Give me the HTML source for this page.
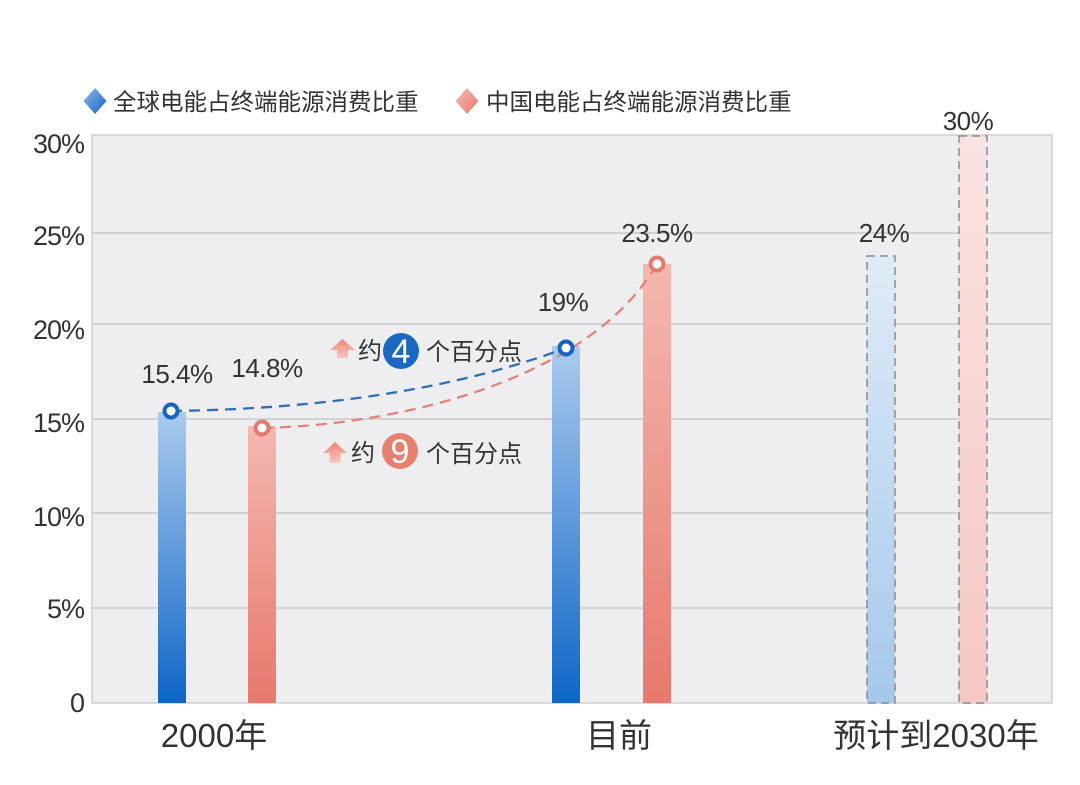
<!DOCTYPE html>
<html><head><meta charset="utf-8"><style>
html,body{margin:0;padding:0;background:#fff;}
svg{display:block;}
text{font-family:"Liberation Sans","Noto Sans CJK SC",sans-serif;fill:#333;}
</style></head><body>
<svg width="1080" height="785" viewBox="0 0 1080 785" xmlns="http://www.w3.org/2000/svg">
<defs>
<linearGradient id="gb" x1="0" y1="0" x2="0" y2="1"><stop offset="0" stop-color="#aacbee"/><stop offset="1" stop-color="#0e66c6"/></linearGradient>
<linearGradient id="gr" x1="0" y1="0" x2="0" y2="1"><stop offset="0" stop-color="#f3b8b1"/><stop offset="1" stop-color="#e7796c"/></linearGradient>
<linearGradient id="gbl" x1="0" y1="0" x2="0" y2="1"><stop offset="0" stop-color="#dfebf8"/><stop offset="1" stop-color="#a5c8eb"/></linearGradient>
<linearGradient id="grl" x1="0" y1="0" x2="0" y2="1"><stop offset="0" stop-color="#fae2e0"/><stop offset="1" stop-color="#f5c7c3"/></linearGradient>
<linearGradient id="ga" x1="0" y1="0" x2="0" y2="1"><stop offset="0" stop-color="#ee8577"/><stop offset="1" stop-color="#f7c6be"/></linearGradient>
<linearGradient id="gdb" x1="0" y1="0" x2="1" y2="1"><stop offset="0" stop-color="#8dbbec"/><stop offset="1" stop-color="#1763bf"/></linearGradient>
<linearGradient id="gdr" x1="0" y1="0" x2="1" y2="1"><stop offset="0" stop-color="#f5bcb4"/><stop offset="1" stop-color="#e5776b"/></linearGradient>
</defs>

<!-- legend -->
<polygon points="95,88 106.5,101 95,114 83.5,101" fill="url(#gdb)"/>
<text x="113" y="110" font-size="23.5">全球电能占终端能源消费比重</text>
<polygon points="467,88 478.5,101 467,114 455.5,101" fill="url(#gdr)"/>
<text x="486" y="110" font-size="23.5">中国电能占终端能源消费比重</text>

<!-- plot area -->
<rect x="92" y="135" width="960" height="568" fill="#eeeef0" stroke="#cfcfd2" stroke-width="1.5"/>
<g stroke="#c9c9cc" stroke-width="1.5">
<line x1="92" y1="233" x2="1052" y2="233"/>
<line x1="92" y1="324" x2="1052" y2="324"/>
<line x1="92" y1="419" x2="1052" y2="419"/>
<line x1="92" y1="513" x2="1052" y2="513"/>
<line x1="92" y1="608" x2="1052" y2="608"/>
</g>

<!-- y axis labels -->
<g font-size="27" text-anchor="end" letter-spacing="-1">
<text x="84" y="153">30%</text>
<text x="84" y="245">25%</text>
<text x="84" y="339">20%</text>
<text x="84" y="432">15%</text>
<text x="84" y="526">10%</text>
<text x="84" y="618">5%</text>
<text x="84" y="712">0</text>
</g>

<!-- bars -->
<rect x="158" y="412" width="28" height="291" fill="url(#gb)"/>
<rect x="248" y="426" width="28" height="277" fill="url(#gr)"/>
<rect x="552" y="346" width="28" height="357" fill="url(#gb)"/>
<rect x="643" y="264" width="28" height="439" fill="url(#gr)"/>
<rect x="867" y="256" width="28" height="447" fill="url(#gbl)" stroke="#8c8c90" stroke-width="1.5" stroke-dasharray="8 5"/>
<rect x="959" y="136" width="28" height="567" fill="url(#grl)" stroke="#8c8c90" stroke-width="1.5" stroke-dasharray="8 5"/>

<!-- dashed curves -->
<path d="M171,411 Q405,408 566,348" fill="none" stroke="#2f6fb5" stroke-width="2.3" stroke-dasharray="11 7"/>
<path d="M262,428 C400,425 590,380 657,264" fill="none" stroke="#e08379" stroke-width="2.3" stroke-dasharray="11 7"/>

<!-- markers -->
<circle cx="171" cy="411" r="6.5" fill="#fff" stroke="#1763bf" stroke-width="4"/>
<circle cx="262" cy="428" r="6.5" fill="#fff" stroke="#e27a6f" stroke-width="4"/>
<circle cx="566" cy="348" r="6.5" fill="#fff" stroke="#1763bf" stroke-width="4"/>
<circle cx="657" cy="264" r="6.5" fill="#fff" stroke="#e27a6f" stroke-width="4"/>

<!-- value labels -->
<g font-size="26" text-anchor="middle" letter-spacing="-0.5">
<text x="177" y="383">15.4%</text>
<text x="267" y="377">14.8%</text>
<text x="563" y="311">19%</text>
<text x="657" y="242">23.5%</text>
<text x="884" y="242">24%</text>
<text x="968" y="130">30%</text>
</g>

<!-- annotations -->
<polygon points="330,350 342.5,339 355,350 348,350 348,358 337,358 337,350" fill="url(#ga)"/>
<text x="358" y="359" font-size="24">约</text>
<circle cx="401" cy="351" r="18" fill="#1a68c2"/>
<text x="401" y="363" font-size="34" text-anchor="middle" style="fill:#fff">4</text>
<text x="426" y="360" font-size="24">个百分点</text>

<polygon points="323,453 335,442 347,453 340.5,453 340.5,463 329.5,463 329.5,453" fill="url(#ga)"/>
<text x="351" y="461" font-size="24">约</text>
<circle cx="400" cy="451" r="18" fill="#e8806f"/>
<text x="400" y="463" font-size="34" text-anchor="middle" style="fill:#fff">9</text>
<text x="426" y="462" font-size="24">个百分点</text>

<!-- x labels -->
<g font-size="33" text-anchor="middle">
<text x="214" y="747">2000年</text>
<text x="619" y="747">目前</text>
<text x="936" y="747">预计到2030年</text>
</g>
</svg>
</body></html>
